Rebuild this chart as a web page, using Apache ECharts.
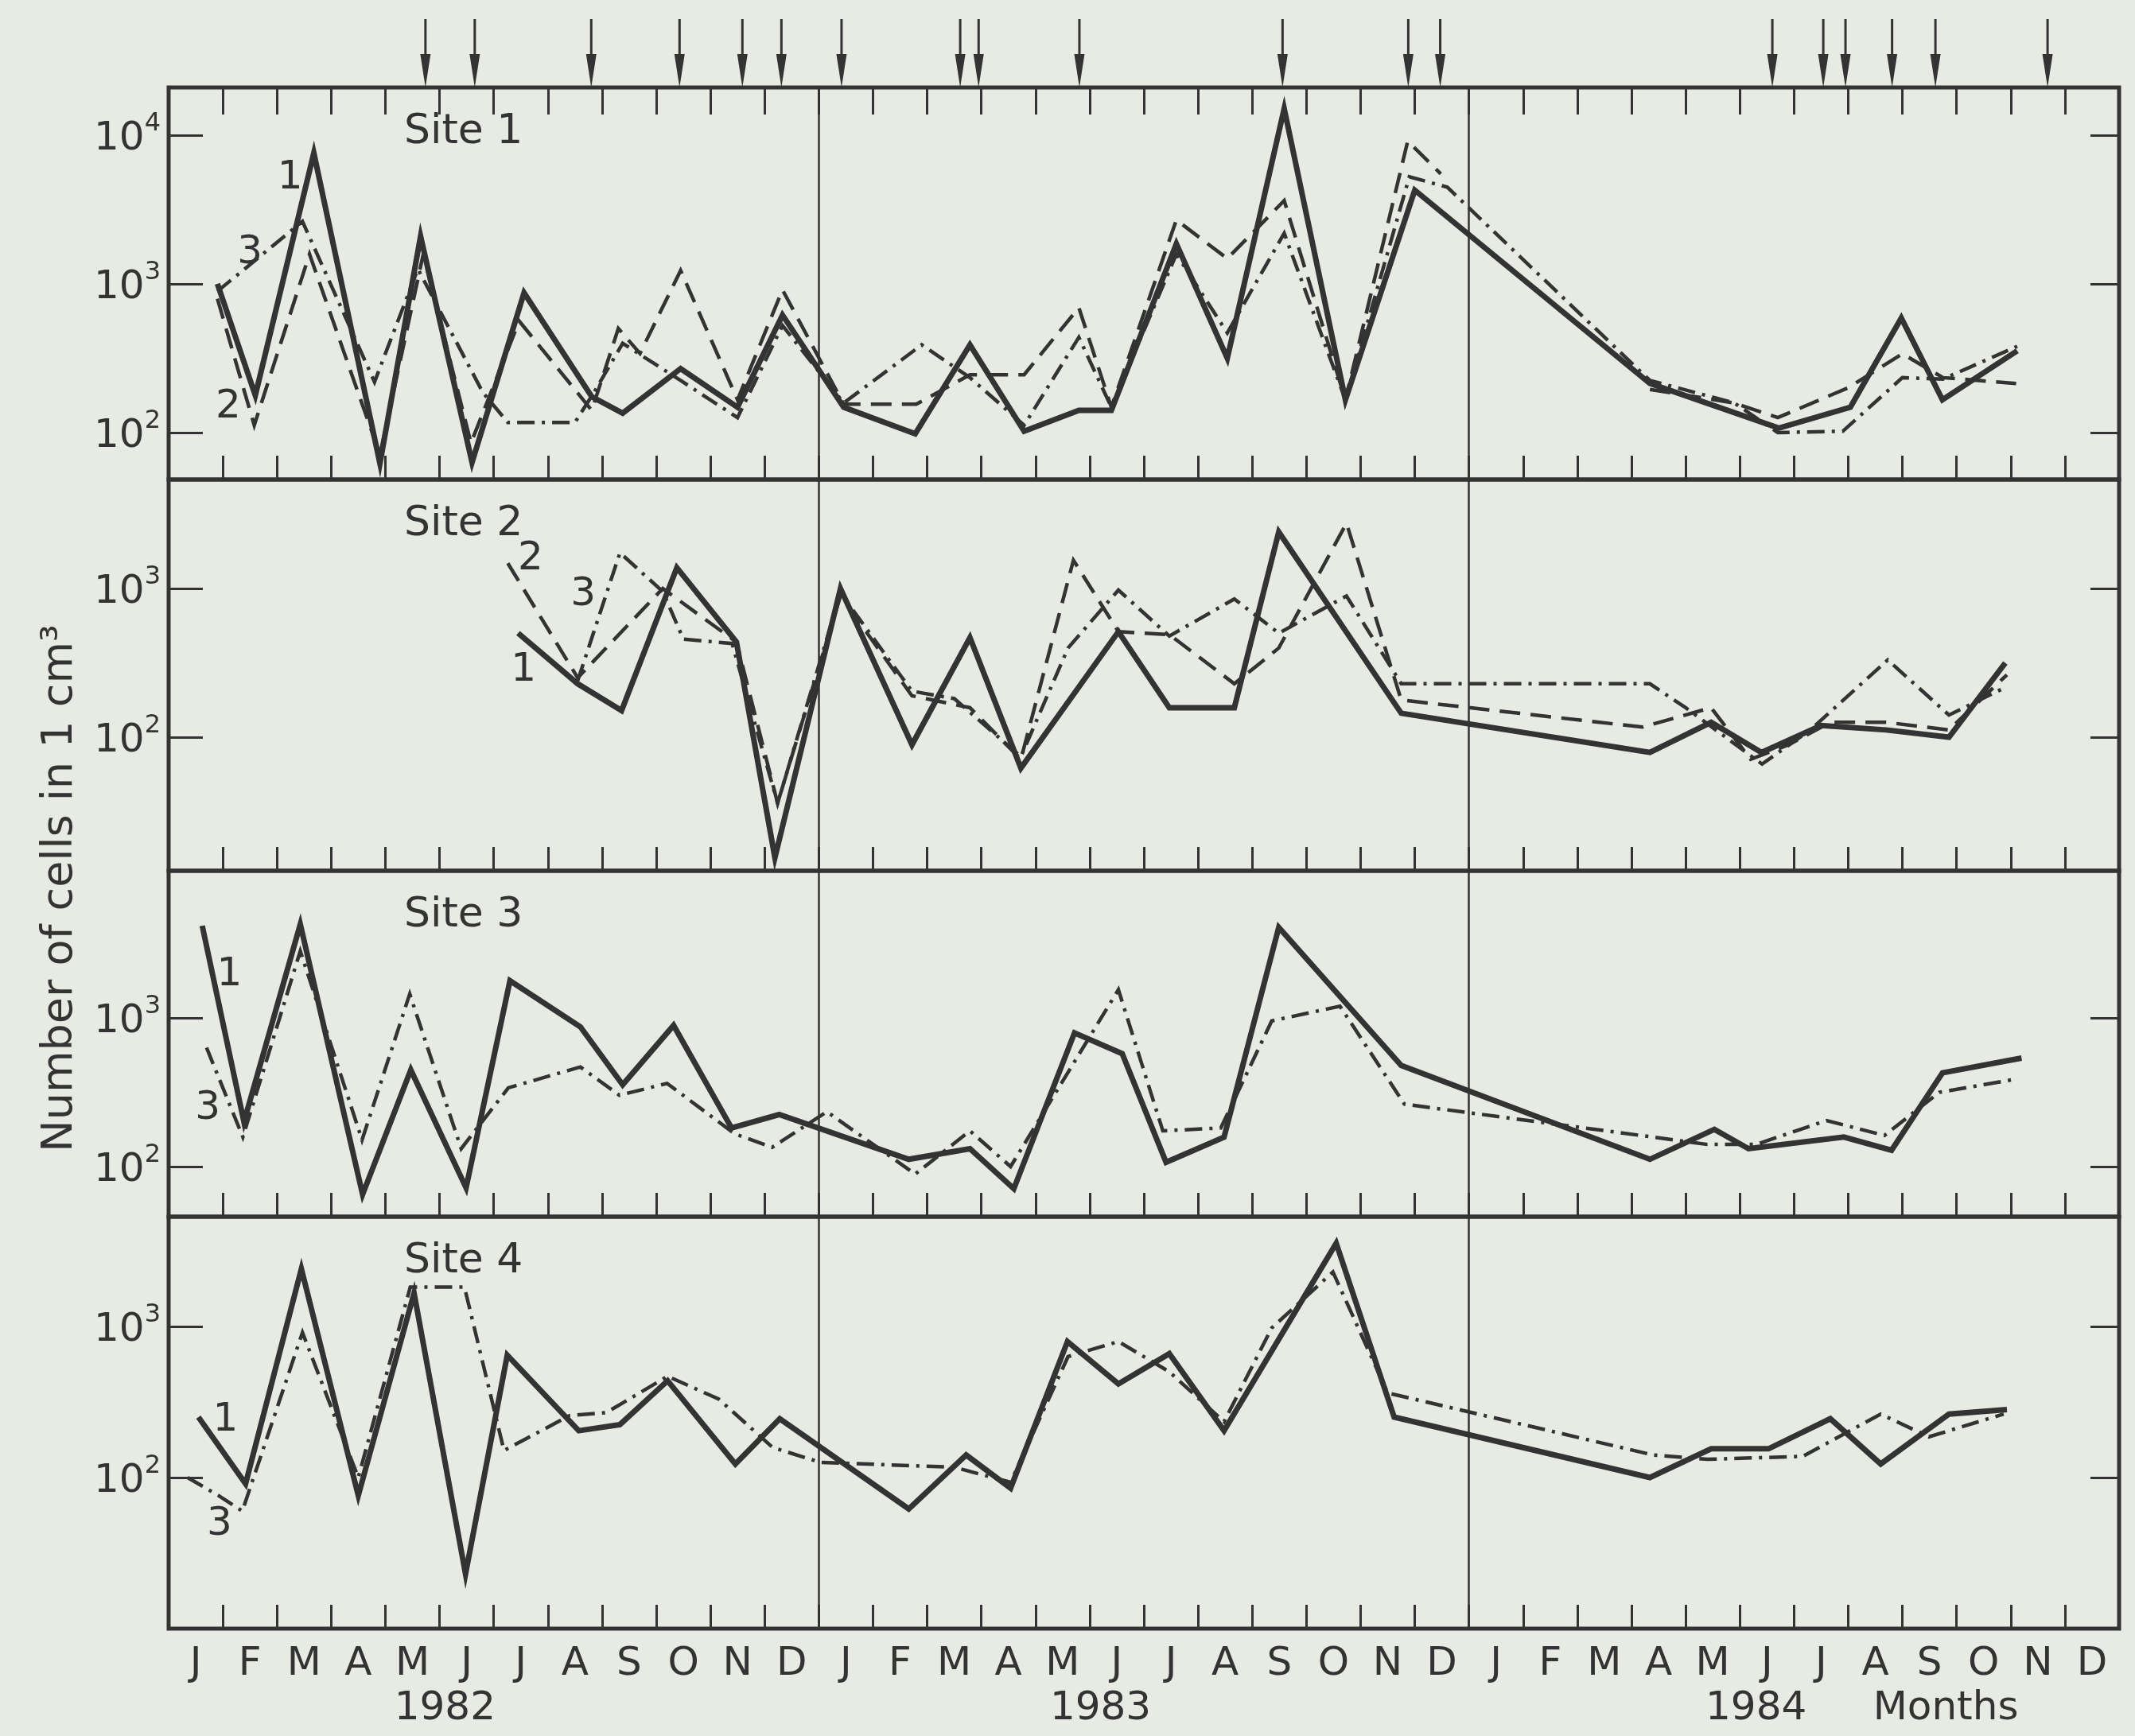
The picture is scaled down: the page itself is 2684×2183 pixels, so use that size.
<!DOCTYPE html>
<html><head><meta charset="utf-8">
<script src="https://cdn.jsdelivr.net/npm/echarts@6/dist/echarts.min.js"></script>
<style>html,body{margin:0;padding:0;background:#e8ebe3}#c{width:2684px;height:2183px}</style>
</head><body><div id="c"></div>
<script>
// ---------- data ----------
const monthLabels = ['J','F','M','A','M','J','J','A','S','O','N','D','J','F','M','A','M','J','J','A','S','O','N','D','J','F','M','A','M','J','J','A','S','O','N','D'];
const yearLabels = ['1982','1983','1984','Months'];
const yearLabelAt = [5.1, 17.2, 29.3, 32.8];
const arrowDates = [4.74,5.65,7.8,9.43,10.59,11.31,12.42,14.61,14.95,16.81,20.56,22.88,23.47,29.6,30.54,30.95,31.81,32.61,34.68];
const yearBreaks = [12, 24];
const panelDecades = [[2,3,4],[2,3],[2,3],[2,3]];

const site1Layer1 = [[0.9,1000],[1.6,178],[2.68,7590],[3.9,62],[4.65,2090],[5.6,63],[6.56,870],[7.81,174],[8.38,135],[9.45,269],[10.5,148],[11.33,617],[12.46,148],[13.78,98],[14.79,389],[15.79,102],[16.8,141],[17.4,141],[18.6,1862],[19.54,316],[20.59,15100],[21.72,166],[23.0,4270],[27.34,214],[29.72,107],[31.04,148],[31.98,589],[32.74,166],[34.12,355]];
const site1Layer2 = [[0.9,794],[1.58,112],[2.6,1585],[3.9,71],[4.7,1585],[5.58,85],[6.47,562],[7.81,141],[8.3,501],[8.7,340],[9.45,1230],[10.5,166],[11.33,912],[12.46,155],[13.8,155],[14.79,245],[15.79,245],[16.8,692],[17.4,148],[18.6,2690],[19.54,1480],[20.59,3630],[21.72,166],[22.87,9120],[23.48,5500],[25,'-'],[27.34,195],[28.9,158],[29.7,126],[31.0,200],[32.0,339],[32.75,234],[34.1,214]];
const site1Layer3 = [[0.9,891],[2.47,2630],[3.8,219],[4.6,1260],[5.8,186],[6.26,117],[7.5,117],[7.85,186],[8.38,398],[9.45,224],[10.5,126],[11.33,525],[12.46,158],[13.9,389],[14.79,234],[15.79,112],[16.8,437],[17.4,148],[18.6,1585],[19.54,468],[20.59,2190],[21.72,166],[22.9,5250],[23.6,4470],[27.34,224],[28.9,158],[29.7,100],[30.9,102],[32.0,234],[32.75,229],[34.12,380]];

const site2Layer1 = [[6.45,501],[7.55,229],[8.36,151],[9.38,1380],[10.48,437],[11.19,15.5],[12.4,1000],[13.72,89],[14.79,468],[15.73,62],[17.53,513],[18.47,158],[19.67,158],[20.49,2400],[22.75,145],[27.34,79],[28.47,126],[29.4,79],[30.5,120],[31.7,112],[32.86,100],[33.9,316]];
const site2Layer2 = [[6.26,1480],[7.55,251],[9.12,1000],[10.48,437],[11.24,36],[12.4,891],[13.72,190],[14.79,158],[15.73,71],[16.7,1550],[17.53,513],[18.47,490],[19.67,229],[20.49,398],[21.74,2750],[22.75,178],[27.2,117],[28.47,158],[29.2,71],[29.9,89],[30.67,126],[31.7,126],[32.86,112],[33.93,263]];
const site2Layer3 = [[7.55,240],[8.33,1740],[9.12,955],[9.5,457],[10.4,427],[11.24,36],[12.4,933],[13.72,204],[14.5,182],[15.73,74],[16.6,398],[17.53,977],[18.47,479],[19.67,851],[20.49,501],[21.74,891],[22.75,229],[27.34,229],[28.0,158],[29.41,66],[30.3,112],[31.73,331],[32.86,141],[33.93,219]];

const site3Layer1 = [[0.62,4170],[1.39,200],[2.43,4270],[3.58,65],[4.47,447],[5.49,72],[6.3,1780],[7.6,871],[8.38,355],[9.32,891],[10.39,182],[11.27,224],[13.66,112],[14.79,132],[15.6,71],[16.72,794],[17.6,575],[18.41,107],[19.48,158],[20.49,4070],[22.75,479],[27.34,112],[28.53,178],[29.16,132],[30.92,158],[31.8,129],[32.74,427],[34.2,537]];
const site3Layer3 = [[0.7,631],[1.37,158],[2.43,2820],[3.57,151],[4.45,1450],[5.4,132],[6.27,339],[7.6,468],[8.32,302],[9.2,363],[10.45,166],[11.14,135],[12.15,234],[13.78,89],[14.79,174],[15.54,100],[17.53,1550],[18.35,174],[19.42,182],[20.36,955],[21.62,1200],[22.81,263],[27.4,158],[28.4,141],[29.3,141],[30.6,204],[31.67,162],[32.68,316],[34.12,389]];

const site4Layer1 = [[0.55,251],[1.42,91],[2.45,2400],[3.5,76],[4.53,1660],[5.48,23],[6.25,646],[7.57,204],[8.33,224],[9.21,437],[10.46,123],[11.28,245],[13.66,62],[14.72,141],[15.54,85],[16.59,794],[17.53,417],[18.47,661],[19.48,204],[21.55,3550],[22.62,251],[27.34,100],[28.47,155],[29.53,155],[30.67,245],[31.6,123],[32.86,263],[33.93,282]];
const site4Layer3 = [[0.35,100],[0.92,76],[1.36,60],[2.47,912],[3.5,100],[4.46,1820],[5.46,1820],[6.19,151],[7.4,257],[8.08,269],[9.21,468],[10.15,331],[11.15,158],[12.03,126],[14.5,117],[15.54,93],[16.6,631],[17.53,794],[18.47,501],[19.48,234],[20.36,977],[21.49,2290],[22.5,363],[27.4,141],[28.4,132],[30.16,138],[31.6,263],[32.49,186],[33.87,263]];

const site1Tags = [[2.24,5130,'1'],[1.5,1620,'3'],[1.1,148,'2']];
const site2Tags = [[6.68,1585,'2'],[7.65,912,'3'],[6.55,282,'1']];
const site3Tags = [[1.12,1950,'1'],[0.72,245,'3']];
const site4Tags = [[1.05,240,'1'],[0.94,49,'3']];
const siteNames = ['Site 1','Site 2','Site 3','Site 4'];
const yTitle = 'Number of cells in 1 cm³';

// ---------- layout ----------
const INK = '#333333';
const FONT = 'DejaVu Sans';
const L = 212, W = 2452;
const panels = [
  {top:110, h:493, min:Math.pow(10,1.684), max:Math.pow(10,4.321)},
  {top:603, h:492, min:Math.pow(10,1.102), max:Math.pow(10,3.733)},
  {top:1095,h:435, min:Math.pow(10,1.663), max:Math.pow(10,3.99)},
  {top:1530,h:518, min:10, max:Math.pow(10,3.726)}
];
const siteData = [
  [site1Layer1, site1Layer2, site1Layer3],
  [site2Layer1, site2Layer2, site2Layer3],
  [site3Layer1, null, site3Layer3],
  [site4Layer1, null, site4Layer3]
];
const tags = [site1Tags, site2Tags, site3Tags, site4Tags];
const styles = [
  {width:7, type:'solid'},
  {width:4.5, type:[26,13]},
  {width:4.5, type:[22,9,4,9]}
];

const grid = [{left:L, width:W, top:20, height:90}];
const xAxis = [{gridIndex:0, type:'value', min:0, max:36, show:false}];
const yAxis = [{gridIndex:0, type:'value', min:0, max:1, show:false}];
panels.forEach((p,i)=>{
  grid.push({left:L, width:W, top:p.top, height:p.h, show:true, borderColor:INK, borderWidth:5, backgroundColor:'transparent'});
});
panels.forEach((p,i)=>{
  xAxis.push({gridIndex:i+1, type:'value', min:0, max:36, show:false, axisLine:{onZero:false}});
});
panels.forEach((p,i)=>{
  xAxis.push({gridIndex:i+1, type:'category', data:monthLabels, position:'bottom', boundaryGap:true,
    axisLine:{show:false, onZero:false},
    axisTick:{show:true, inside:true, length:30, interval:0, lineStyle:{color:INK, width:3}},
    axisLabel:{show:i===3, interval:0, margin:20, color:INK, fontSize:50, fontFamily:FONT},
    splitLine:{show:false}});
});
xAxis.push({gridIndex:1, type:'category', data:monthLabels, position:'top', boundaryGap:true,
  axisLine:{show:false, onZero:false}, axisLabel:{show:false},
  axisTick:{show:true, inside:true, length:34, interval:0, lineStyle:{color:INK, width:3}}});
xAxis.push({gridIndex:4, type:'value', min:0, max:36, position:'bottom', offset:68,
  axisLine:{show:false, onZero:false}, axisTick:{show:false}, splitLine:{show:false},
  axisLabel:{show:true, customValues:yearLabelAt, color:INK, fontSize:50, fontFamily:FONT,
    formatter:(v)=>{let k=0,b=1e9;yearLabelAt.forEach((a,j)=>{if(Math.abs(a-v)<b){b=Math.abs(a-v);k=j;}});return yearLabels[k];}}});

panels.forEach((p,i)=>{
  const decs = panelDecades[i];
  yAxis.push({gridIndex:i+1, type:'log', logBase:10, min:p.min, max:p.max, position:'left',
    axisLine:{show:false, onZero:false}, splitLine:{show:false},
    axisTick:{show:true, inside:true, length:43, lineStyle:{color:INK, width:3}},
    axisLabel:{show:true, showMinLabel:false, showMaxLabel:false, margin:10, color:INK, fontFamily:FONT,
      formatter:(v)=>{const lg=Math.log10(v), e=Math.round(lg);
        if(Math.abs(lg-e)>0.01 || decs.indexOf(e)<0) return '';
        return '{b|10}{s|'+e+'}';},
      rich:{b:{fontSize:50, fontFamily:FONT, color:INK, lineHeight:60, verticalAlign:'bottom'},
            s:{fontSize:32, fontFamily:FONT, color:INK, lineHeight:60, verticalAlign:'top'}}}});
});
panels.forEach((p,i)=>{
  yAxis.push({gridIndex:i+1, type:'log', logBase:10, min:p.min, max:p.max, position:'right',
    axisLine:{show:false, onZero:false}, splitLine:{show:false}, axisLabel:{show:false},
    axisTick:{show:true, inside:true, length:36, lineStyle:{color:INK, width:3}}});
});

const series = [];
series.push({type:'custom', xAxisIndex:0, yAxisIndex:0, silent:true, animation:false,
  data: arrowDates.map(d=>[d, 0]),
  renderItem:(params, api)=>{
    const x = api.value(0);
    const a = api.coord([x, 1]), b = api.coord([x, 0]);
    const hl = 42, hw = 6.5;
    return {type:'group', children:[
      {type:'line', shape:{x1:a[0], y1:a[1]+4, x2:b[0], y2:b[1]-hl+4}, style:{stroke:INK, lineWidth:3}},
      {type:'polygon', shape:{points:[[b[0]-hw,b[1]-hl],[b[0]+hw,b[1]-hl],[b[0],b[1]]]}, style:{fill:INK}}
    ]};
  }});

siteData.forEach((layers, i)=>{
  let first = true;
  layers.forEach((d, k)=>{
    if(!d) return;
    const s = {type:'line', xAxisIndex:i+1, yAxisIndex:i+1, data:d, showSymbol:false, symbol:'none',
      animation:false, silent:true, connectNulls:false,
      lineStyle:{color:INK, width:styles[k].width, type:styles[k].type, join:'miter', miterLimit:8, cap:'butt'}};
    if(first){
      s.markLine = {silent:true, symbol:'none', label:{show:false}, animation:false,
        lineStyle:{color:INK, width:2.5, type:'solid', opacity:1},
        data: yearBreaks.map(v=>({xAxis:v}))};
      first = false;
    }
    series.push(s);
  });
  series.push({type:'scatter', xAxisIndex:i+1, yAxisIndex:i+1, data:tags[i], symbolSize:2,
    itemStyle:{color:'rgba(0,0,0,0)', opacity:1}, silent:true, animation:false,
    label:{show:true, position:'inside', opacity:1, formatter:(q)=>q.value[2], color:INK, fontSize:50, fontFamily:FONT}});
});

const graphic = [];
panels.forEach((p,i)=>{
  graphic.push({type:'text', left:508, top:p.top+30, silent:true,
    style:{text:siteNames[i], fill:INK, font:'52px "DejaVu Sans"'}});
});
graphic.push({type:'text', x:76, y:1117, rotation:Math.PI/2, silent:true,
  style:{text:yTitle, fill:INK, font:'54px "DejaVu Sans"', textAlign:'center', textVerticalAlign:'middle'}});

const chart = echarts.init(document.getElementById('c'), null, {renderer:'canvas'});
chart.setOption({backgroundColor:'#e8ebe3', animation:false, grid, xAxis, yAxis, series, graphic});
</script></body></html>
